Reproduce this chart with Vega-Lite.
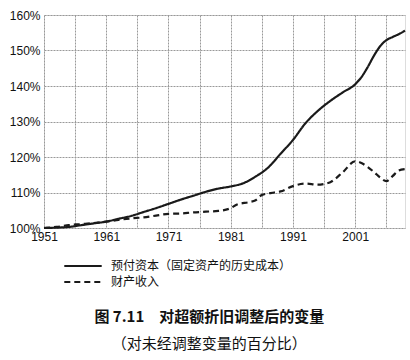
{
  "$schema": "https://vega.github.io/schema/vega-lite/v6.json",
  "autosize": {"type": "none"},
  "width": 361,
  "height": 213,
  "padding": {"left": 44, "top": 15, "right": 5, "bottom": 132},
  "background": "white",
  "title": {
    "text": "图 7.11　对超额折旧调整后的变量",
    "subtitle": "（对未经调整变量的百分比）",
    "orient": "bottom",
    "anchor": "middle",
    "frame": "bounds",
    "offset": 20,
    "font": "Noto Sans CJK SC",
    "fontSize": 15,
    "fontWeight": "bold",
    "color": "#111",
    "subtitleFont": "Noto Sans CJK SC",
    "subtitleFontSize": 15,
    "subtitleColor": "#111",
    "subtitlePadding": 12
  },
  "data": {
    "values": [
      {"year": 1951, "value": 100.0, "series": "预付资本（固定资产的历史成本）"},
      {"year": 1953, "value": 100.1, "series": "预付资本（固定资产的历史成本）"},
      {"year": 1955, "value": 100.3, "series": "预付资本（固定资产的历史成本）"},
      {"year": 1957, "value": 100.8, "series": "预付资本（固定资产的历史成本）"},
      {"year": 1959, "value": 101.3, "series": "预付资本（固定资产的历史成本）"},
      {"year": 1961, "value": 101.8, "series": "预付资本（固定资产的历史成本）"},
      {"year": 1963, "value": 102.6, "series": "预付资本（固定资产的历史成本）"},
      {"year": 1965, "value": 103.4, "series": "预付资本（固定资产的历史成本）"},
      {"year": 1967, "value": 104.5, "series": "预付资本（固定资产的历史成本）"},
      {"year": 1969, "value": 105.6, "series": "预付资本（固定资产的历史成本）"},
      {"year": 1971, "value": 106.8, "series": "预付资本（固定资产的历史成本）"},
      {"year": 1973, "value": 108.0, "series": "预付资本（固定资产的历史成本）"},
      {"year": 1975, "value": 109.1, "series": "预付资本（固定资产的历史成本）"},
      {"year": 1977, "value": 110.2, "series": "预付资本（固定资产的历史成本）"},
      {"year": 1979, "value": 111.1, "series": "预付资本（固定资产的历史成本）"},
      {"year": 1981, "value": 111.7, "series": "预付资本（固定资产的历史成本）"},
      {"year": 1983, "value": 112.6, "series": "预付资本（固定资产的历史成本）"},
      {"year": 1985, "value": 114.5, "series": "预付资本（固定资产的历史成本）"},
      {"year": 1987, "value": 117.0, "series": "预付资本（固定资产的历史成本）"},
      {"year": 1989, "value": 120.9, "series": "预付资本（固定资产的历史成本）"},
      {"year": 1991, "value": 124.8, "series": "预付资本（固定资产的历史成本）"},
      {"year": 1993, "value": 129.5, "series": "预付资本（固定资产的历史成本）"},
      {"year": 1995, "value": 133.0, "series": "预付资本（固定资产的历史成本）"},
      {"year": 1997, "value": 135.8, "series": "预付资本（固定资产的历史成本）"},
      {"year": 1999, "value": 138.2, "series": "预付资本（固定资产的历史成本）"},
      {"year": 2001, "value": 140.5, "series": "预付资本（固定资产的历史成本）"},
      {"year": 2002, "value": 142.5, "series": "预付资本（固定资产的历史成本）"},
      {"year": 2003, "value": 145.3, "series": "预付资本（固定资产的历史成本）"},
      {"year": 2004, "value": 148.5, "series": "预付资本（固定资产的历史成本）"},
      {"year": 2005, "value": 151.2, "series": "预付资本（固定资产的历史成本）"},
      {"year": 2006, "value": 152.9, "series": "预付资本（固定资产的历史成本）"},
      {"year": 2007, "value": 153.8, "series": "预付资本（固定资产的历史成本）"},
      {"year": 2008, "value": 154.6, "series": "预付资本（固定资产的历史成本）"},
      {"year": 2009, "value": 155.6, "series": "预付资本（固定资产的历史成本）"},
      {"year": 1951, "value": 100.0, "series": "财产收入"},
      {"year": 1953, "value": 100.3, "series": "财产收入"},
      {"year": 1955, "value": 100.8, "series": "财产收入"},
      {"year": 1957, "value": 101.1, "series": "财产收入"},
      {"year": 1959, "value": 101.4, "series": "财产收入"},
      {"year": 1961, "value": 101.8, "series": "财产收入"},
      {"year": 1963, "value": 102.3, "series": "财产收入"},
      {"year": 1965, "value": 102.7, "series": "财产收入"},
      {"year": 1967, "value": 103.0, "series": "财产收入"},
      {"year": 1969, "value": 103.5, "series": "财产收入"},
      {"year": 1971, "value": 104.0, "series": "财产收入"},
      {"year": 1973, "value": 104.1, "series": "财产收入"},
      {"year": 1975, "value": 104.4, "series": "财产收入"},
      {"year": 1977, "value": 104.6, "series": "财产收入"},
      {"year": 1979, "value": 104.8, "series": "财产收入"},
      {"year": 1981, "value": 105.6, "series": "财产收入"},
      {"year": 1982, "value": 106.6, "series": "财产收入"},
      {"year": 1984, "value": 107.3, "series": "财产收入"},
      {"year": 1985, "value": 107.8, "series": "财产收入"},
      {"year": 1986, "value": 109.3, "series": "财产收入"},
      {"year": 1988, "value": 110.0, "series": "财产收入"},
      {"year": 1989, "value": 110.3, "series": "财产收入"},
      {"year": 1991, "value": 111.8, "series": "财产收入"},
      {"year": 1993, "value": 112.5, "series": "财产收入"},
      {"year": 1995, "value": 112.2, "series": "财产收入"},
      {"year": 1996, "value": 112.4, "series": "财产收入"},
      {"year": 1997, "value": 112.9, "series": "财产收入"},
      {"year": 1999, "value": 115.7, "series": "财产收入"},
      {"year": 2001, "value": 118.8, "series": "财产收入"},
      {"year": 2002, "value": 118.3, "series": "财产收入"},
      {"year": 2003, "value": 117.2, "series": "财产收入"},
      {"year": 2004, "value": 115.8, "series": "财产收入"},
      {"year": 2005, "value": 114.2, "series": "财产收入"},
      {"year": 2006, "value": 113.2, "series": "财产收入"},
      {"year": 2007, "value": 114.6, "series": "财产收入"},
      {"year": 2008, "value": 116.2, "series": "财产收入"},
      {"year": 2009, "value": 116.6, "series": "财产收入"}
    ]
  },
  "mark": {"type": "line", "color": "#1a1a1a", "strokeWidth": 2.2, "interpolate": "monotone"},
  "encoding": {
    "x": {
      "field": "year",
      "type": "quantitative",
      "scale": {"domain": [1951, 2009], "nice": false, "zero": false},
      "axis": {
        "title": null,
        "values": [1951, 1956, 1961, 1966, 1971, 1976, 1981, 1986, 1991, 1996, 2001, 2006],
        "labelExpr": "(datum.value - 1951) % 10 == 0 ? format(datum.value, 'd') : ''",
        "domain": false,
        "ticks": false,
        "grid": true,
        "gridColor": "#999",
        "gridDash": [2, 1],
        "gridWidth": 1,
        "labelFont": "Liberation Sans",
        "labelFontSize": 12,
        "labelColor": "#111",
        "labelPadding": 3,
        "labelFlush": false
      }
    },
    "y": {
      "field": "value",
      "type": "quantitative",
      "scale": {"domain": [100, 160], "nice": false, "zero": false},
      "axis": {
        "title": null,
        "values": [100, 110, 120, 130, 140, 150, 160],
        "labelExpr": "datum.value + '%'",
        "domain": false,
        "ticks": false,
        "grid": true,
        "gridColor": "#999",
        "gridDash": [2, 1],
        "gridWidth": 1,
        "labelFont": "Liberation Sans",
        "labelFontSize": 12,
        "labelColor": "#111",
        "labelPadding": 4
      }
    },
    "strokeDash": {
      "field": "series",
      "type": "nominal",
      "sort": ["预付资本（固定资产的历史成本）", "财产收入"],
      "scale": {"domain": ["预付资本（固定资产的历史成本）", "财产收入"], "range": [[1, 0], [6, 4]]},
      "legend": {
        "title": null,
        "orient": "none",
        "legendX": 19,
        "legendY": 243,
        "symbolType": "stroke",
        "symbolSize": 1400,
        "symbolStrokeWidth": 2.2,
        "symbolStrokeColor": "#1a1a1a",
        "labelFont": "Noto Sans CJK SC",
        "labelFontSize": 12,
        "labelColor": "#111",
        "labelOffset": 8,
        "labelLimit": 400,
        "clipHeight": 16,
        "rowPadding": 0
      }
    }
  }
}
